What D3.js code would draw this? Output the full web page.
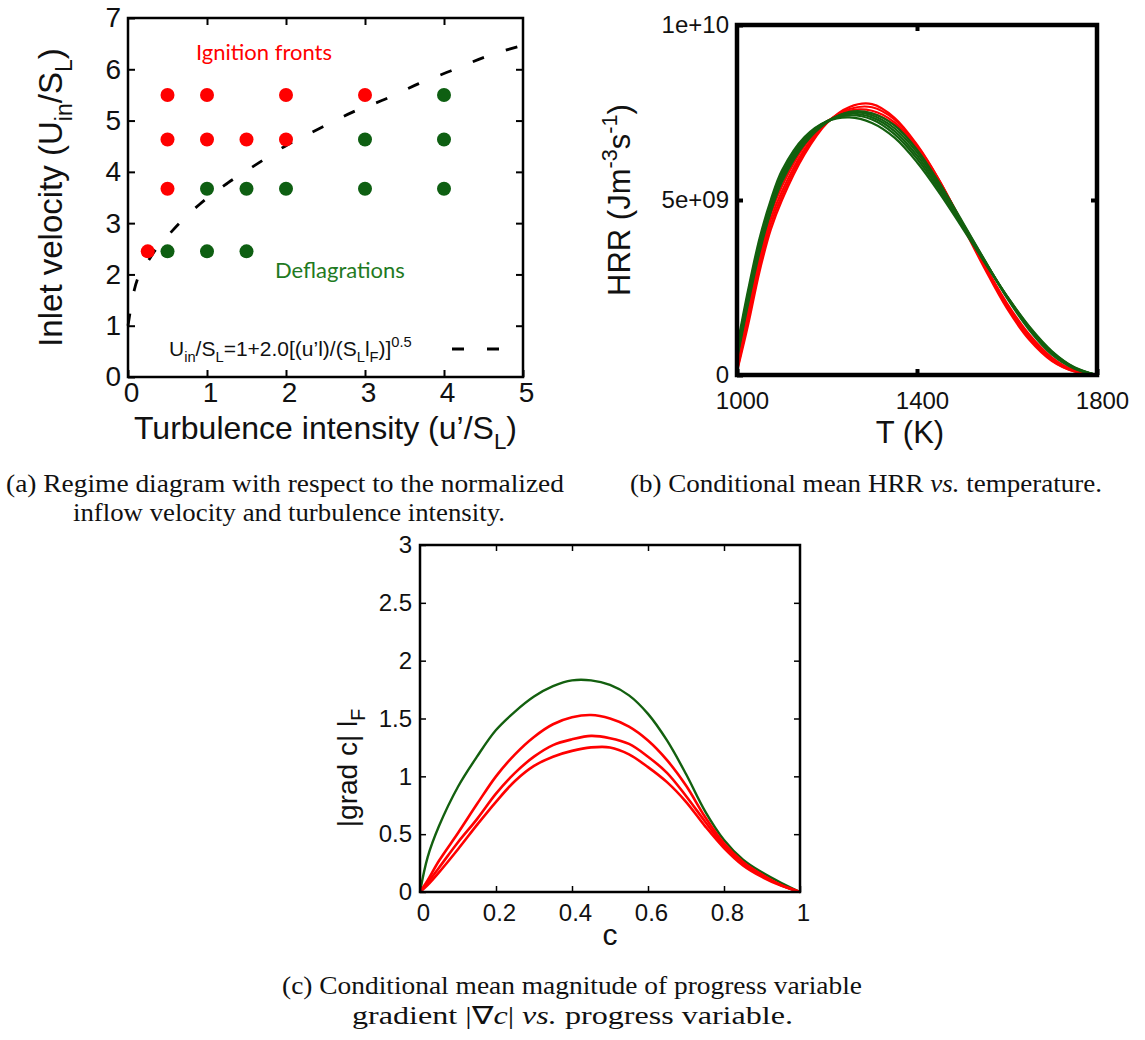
<!DOCTYPE html>
<html>
<head>
<meta charset="utf-8">
<script src="https://cdn.jsdelivr.net/npm/d3@7"></script>
<style>
  html, body { margin: 0; padding: 0; background: #fff; }
  svg { display: block; }
</style>
</head>
<body>
<div id="chart"></div>
<script>
// ---------- data ----------
// (a) regime diagram: turbulence intensity vs inlet velocity
const ignitionX = [0.5, 1, 2, 3, 0.5, 1, 1.5, 2, 0.5, 0.25];
const ignitionY = [5.5, 5.5, 5.5, 5.5, 4.63, 4.63, 4.63, 4.63, 3.67, 2.45];
const deflagX = [4, 3, 4, 1, 1.5, 2, 3, 4, 0.5, 1, 1.5];
const deflagY = [5.5, 4.63, 4.63, 3.67, 3.67, 3.67, 3.67, 3.67, 2.45, 2.45, 2.45];
// dashed boundary
const boundaryX = [0, 0.08, 0.28, 0.56, 0.9, 1.26, 1.62, 2.02, 2.43, 2.85, 3.26, 3.68, 4.09, 4.52, 5];
const boundaryY = [1.0, 1.7, 2.32, 2.85, 3.36, 3.78, 4.14, 4.53, 4.85, 5.17, 5.42, 5.72, 5.97, 6.24, 6.47];
const regimeXTicks = [0, 1, 2, 3, 4, 5];
const regimeYTicks = [0, 1, 2, 3, 4, 5, 6, 7];

// (b) conditional mean HRR (units of 1e9) vs temperature
const hrrT = [1000, 1025, 1050, 1075, 1100, 1150, 1200, 1250, 1300, 1350, 1400, 1450, 1500, 1550, 1600, 1650, 1700, 1750, 1800];
const hrrRed = [
  [0.10, 1.45, 2.95, 4.15, 5.00, 6.30, 7.20, 7.66, 7.74, 7.35, 6.58, 5.55, 4.30, 3.05, 1.90, 1.00, 0.40, 0.10, 0],
  [0.12, 1.60, 3.10, 4.30, 5.12, 6.38, 7.22, 7.60, 7.65, 7.30, 6.55, 5.55, 4.35, 3.10, 1.95, 1.05, 0.42, 0.10, 0],
  [0.15, 1.75, 3.25, 4.45, 5.25, 6.45, 7.22, 7.55, 7.55, 7.22, 6.50, 5.52, 4.35, 3.12, 2.00, 1.10, 0.45, 0.12, 0],
  [0.20, 1.90, 3.40, 4.60, 5.40, 6.55, 7.25, 7.50, 7.47, 7.15, 6.45, 5.50, 4.35, 3.15, 2.05, 1.15, 0.50, 0.13, 0]
];
const hrrGreen = [
  [0.80, 2.45, 3.90, 5.00, 5.85, 6.80, 7.25, 7.36, 7.20, 6.78, 6.08, 5.20, 4.22, 3.22, 2.25, 1.38, 0.68, 0.22, 0],
  [0.70, 2.35, 3.80, 4.90, 5.75, 6.75, 7.25, 7.42, 7.30, 6.88, 6.18, 5.28, 4.28, 3.25, 2.25, 1.36, 0.66, 0.21, 0],
  [0.60, 2.25, 3.70, 4.82, 5.68, 6.70, 7.25, 7.46, 7.36, 6.97, 6.27, 5.35, 4.33, 3.27, 2.24, 1.34, 0.64, 0.20, 0],
  [0.50, 2.15, 3.60, 4.72, 5.60, 6.65, 7.24, 7.50, 7.42, 7.05, 6.36, 5.42, 4.37, 3.28, 2.22, 1.31, 0.61, 0.19, 0],
  [0.45, 2.05, 3.50, 4.65, 5.52, 6.60, 7.22, 7.52, 7.48, 7.13, 6.44, 5.48, 4.40, 3.29, 2.20, 1.28, 0.58, 0.18, 0]
];
const hrrXTicks = [1000, 1400, 1800];
const hrrYTicks = [0, 5e9, 1e10];
const hrrYLabels = ['0', '5e+09', '1e+10'];

// (c) conditional mean |grad c| l_F vs progress variable
const cGrid = [0, 0.02, 0.05, 0.1, 0.15, 0.2, 0.25, 0.3, 0.35, 0.4, 0.45, 0.5, 0.55, 0.6, 0.65, 0.7, 0.75, 0.8, 0.85, 0.9, 0.95, 1.0];
const gradGreen = [0, 0.30, 0.57, 0.91, 1.17, 1.40, 1.56, 1.69, 1.78, 1.83, 1.83, 1.79, 1.70, 1.54, 1.31, 1.02, 0.70, 0.45, 0.28, 0.17, 0.08, 0];
const gradRed = [
  [0, 0.10, 0.27, 0.51, 0.76, 1.00, 1.19, 1.34, 1.45, 1.51, 1.53, 1.50, 1.43, 1.31, 1.14, 0.92, 0.65, 0.42, 0.26, 0.15, 0.06, 0],
  [0, 0.08, 0.21, 0.43, 0.63, 0.85, 1.03, 1.17, 1.27, 1.32, 1.35, 1.33, 1.28, 1.17, 1.03, 0.83, 0.61, 0.40, 0.25, 0.14, 0.06, 0],
  [0, 0.06, 0.17, 0.37, 0.58, 0.78, 0.96, 1.09, 1.17, 1.22, 1.25, 1.25, 1.19, 1.08, 0.95, 0.78, 0.57, 0.38, 0.23, 0.13, 0.055, 0]
];
const cXTicks = [0, 0.2, 0.4, 0.6, 0.8, 1];
const cYTicks = [0, 0.5, 1, 1.5, 2, 2.5, 3];

const RED = '#ff0000';
const GREEN = '#0e5f12';
const LINE_GREEN = '#13600f';
const SANS = '"Liberation Sans", Arial, Helvetica, sans-serif';
const SERIF = '"Liberation Serif", "Times New Roman", serif';

const svg = d3.select('#chart').append('svg')
    .attr('width', 1145)
    .attr('height', 1040);

// text with sub/superscripts, parts = [{t, sub, sup, it}]
function rich(sel, parts, size) {
  let shift = 0;
  parts.forEach(p => {
    const target = p.sub ? size * 0.3 : (p.sup ? -size * 0.42 : 0);
    const ts = sel.append('tspan')
        .attr('dy', target - shift)
        .attr('font-size', (p.sub || p.sup) ? size * 0.7 : size)
        .text(p.t);
    if (p.it) ts.attr('font-style', 'italic');
    shift = target;
  });
  return sel;
}

// frame + inward ticks on all sides
function drawAxes(g, x, y, w, h, o) {
  const styleAxis = a => {
    a.select('.domain').remove();
    a.attr('font-family', SANS).attr('font-size', o.font);
    a.selectAll('.tick line').attr('stroke', '#000').attr('stroke-width', o.tickWidth);
    a.selectAll('.tick text').attr('fill', '#111');
  };

  g.append('g')
      .call(d3.axisLeft(y).tickValues(o.yTicks).tickSize(-o.tickLen).tickPadding(o.padY).tickFormat(o.yFmt))
      .call(styleAxis);

  g.append('g')
      .attr('transform', `translate(0,${h})`)
      .call(d3.axisBottom(x).tickValues(o.xTicks).tickSize(-o.tickLen).tickPadding(o.padX).tickFormat(o.xFmt))
      .call(styleAxis)
      .selectAll('.tick text').attr('dx', o.dx);

  g.append('g')
      .attr('transform', `translate(${w},0)`)
      .call(d3.axisRight(y).tickValues(o.yInner || o.yTicks).tickSize(-o.tickLen).tickFormat(''))
      .call(styleAxis);

  g.append('g')
      .call(d3.axisTop(x).tickValues(o.xInner || o.xTicks).tickSize(-o.tickLen).tickFormat(''))
      .call(styleAxis);

  g.append('rect')
      .attr('width', w)
      .attr('height', h)
      .attr('fill', 'none')
      .attr('stroke', '#000')
      .attr('stroke-width', o.frameWidth);
}

// ---------- (a) regime diagram ----------
{
  const m = {left: 128, top: 18}, w = 395, h = 359;
  const g = svg.append('g').attr('transform', `translate(${m.left},${m.top})`);
  const x = d3.scaleLinear().domain([0, 5]).range([0, w]);
  const y = d3.scaleLinear().domain([0, 7]).range([h, 0]);

  drawAxes(g, x, y, w, h, {
    xTicks: regimeXTicks, yTicks: regimeYTicks,
    xInner: regimeXTicks.slice(1, -1), yInner: regimeYTicks.slice(1, -1),
    xFmt: d3.format('d'), yFmt: d3.format('d'),
    font: 28, tickLen: 7, tickWidth: 2, frameWidth: 2.5, padY: 7, padX: 5, dx: 3
  });

  const boundary = d3.line()
      .x((d, i) => x(boundaryX[i]))
      .y(d => y(d))
      .curve(d3.curveMonotoneX);

  g.append('path')
      .datum(boundaryY)
      .attr('d', boundary)
      .attr('fill', 'none')
      .attr('stroke', '#000')
      .attr('stroke-width', 2.8)
      .attr('stroke-dasharray', '12,23');

  g.selectAll('.ign')
      .data(ignitionX)
      .join('circle')
      .attr('class', 'ign')
      .attr('cx', d => x(d))
      .attr('cy', (d, i) => y(ignitionY[i]))
      .attr('r', 7)
      .attr('fill', RED);

  g.selectAll('.def')
      .data(deflagX)
      .join('circle')
      .attr('class', 'def')
      .attr('cx', d => x(d))
      .attr('cy', (d, i) => y(deflagY[i]))
      .attr('r', 7)
      .attr('fill', GREEN);

  svg.append('text')
      .attr('x', 196).attr('y', 60)
      .attr('font-family', 'Lato, "Open Sans", sans-serif')
      .attr('font-size', 22)
      .attr('fill', RED)
      .text('Ignition fronts');

  svg.append('text')
      .attr('x', 275).attr('y', 278)
      .attr('font-family', 'Lato, "Open Sans", sans-serif')
      .attr('font-size', 22)
      .attr('fill', '#1f7a22')
      .text('Deflagrations');

  // legend of the dashed line
  rich(svg.append('text')
      .attr('x', 169).attr('y', 356)
      .attr('font-family', SANS)
      .attr('fill', '#111'),
    [{t: 'U'}, {t: 'in', sub: true}, {t: '/S'}, {t: 'L', sub: true},
     {t: '=1+2.0[(u’l)/(S'}, {t: 'L', sub: true}, {t: 'l'}, {t: 'F', sub: true},
     {t: ')]'}, {t: '0.5', sup: true}], 21);

  svg.append('line')
      .attr('x1', 452).attr('x2', 500)
      .attr('y1', 349).attr('y2', 349)
      .attr('stroke', '#000')
      .attr('stroke-width', 2.8)
      .attr('stroke-dasharray', '12,23');

  rich(svg.append('text')
      .attr('x', m.left + w / 2).attr('y', 439)
      .attr('text-anchor', 'middle')
      .attr('font-family', SANS)
      .attr('fill', '#111'),
    [{t: 'Turbulence intensity (u’/S'}, {t: 'L', sub: true}, {t: ')'}], 32);

  rich(svg.append('text')
      .attr('transform', `translate(62,${m.top + h / 2}) rotate(-90)`)
      .attr('text-anchor', 'middle')
      .attr('font-family', SANS)
      .attr('fill', '#111'),
    [{t: 'Inlet velocity (U'}, {t: 'in', sub: true}, {t: '/S'}, {t: 'L', sub: true}, {t: ')'}], 33);
}

// ---------- (b) HRR vs T ----------
{
  const m = {left: 737, top: 25}, w = 360, h = 350;
  const g = svg.append('g').attr('transform', `translate(${m.left},${m.top})`);
  const x = d3.scaleLinear().domain([1000, 1800]).range([0, w]);
  const y = d3.scaleLinear().domain([0, 1e10]).range([h, 0]);

  const line = d3.line()
      .x((d, i) => x(hrrT[i]))
      .y(d => y(d * 1e9))
      .curve(d3.curveCatmullRom.alpha(0.5));

  g.selectAll('.red')
      .data(hrrRed)
      .join('path')
      .attr('class', 'red')
      .attr('d', line)
      .attr('fill', 'none')
      .attr('stroke', RED)
      .attr('stroke-width', 2.2);

  g.selectAll('.green')
      .data(hrrGreen)
      .join('path')
      .attr('class', 'green')
      .attr('d', line)
      .attr('fill', 'none')
      .attr('stroke', LINE_GREEN)
      .attr('stroke-width', 2.2);

  drawAxes(g, x, y, w, h, {
    xTicks: hrrXTicks, yTicks: hrrYTicks,
    xInner: [1400], yInner: [5e9],
    xFmt: d3.format('d'), yFmt: (d, i) => hrrYLabels[i],
    font: 24, tickLen: 6, tickWidth: 4, frameWidth: 4.5, padY: 8, padX: 17, dx: 5
  });

  rich(svg.append('text')
      .attr('x', 910).attr('y', 443)
      .attr('text-anchor', 'middle')
      .attr('font-family', SANS)
      .attr('fill', '#111'),
    [{t: 'T (K)'}], 31);

  rich(svg.append('text')
      .attr('transform', `translate(630,${m.top + h / 2}) rotate(-90)`)
      .attr('text-anchor', 'middle')
      .attr('font-family', SANS)
      .attr('fill', '#111'),
    [{t: 'HRR (Jm'}, {t: '-3', sup: true}, {t: 's'}, {t: '-1', sup: true}, {t: ')'}], 31);
}

// ---------- (c) |grad c| vs c ----------
{
  const m = {left: 420, top: 545}, w = 380, h = 347;
  const g = svg.append('g').attr('transform', `translate(${m.left},${m.top})`);
  const x = d3.scaleLinear().domain([0, 1]).range([0, w]);
  const y = d3.scaleLinear().domain([0, 3]).range([h, 0]);

  const line = d3.line()
      .x((d, i) => x(cGrid[i]))
      .y(d => y(d))
      .curve(d3.curveCatmullRom.alpha(0.5));

  g.append('path')
      .datum(gradGreen)
      .attr('d', line)
      .attr('fill', 'none')
      .attr('stroke', LINE_GREEN)
      .attr('stroke-width', 2.4);

  g.selectAll('.red')
      .data(gradRed)
      .join('path')
      .attr('class', 'red')
      .attr('d', line)
      .attr('fill', 'none')
      .attr('stroke', RED)
      .attr('stroke-width', 2.6);

  drawAxes(g, x, y, w, h, {
    xTicks: cXTicks, yTicks: cYTicks,
    xInner: cXTicks.slice(1, -1), yInner: cYTicks.slice(1, -1),
    xFmt: d => d3.format('~g')(d), yFmt: d => d3.format('~g')(d),
    font: 24, tickLen: 6, tickWidth: 1.5, frameWidth: 2.5, padY: 8, padX: 12, dx: 3
  });

  rich(svg.append('text')
      .attr('x', m.left + w / 2).attr('y', 945)
      .attr('text-anchor', 'middle')
      .attr('font-family', SANS)
      .attr('fill', '#111'),
    [{t: 'c'}], 30);

  rich(svg.append('text')
      .attr('transform', `translate(357,768) rotate(-90)`)
      .attr('text-anchor', 'middle')
      .attr('font-family', SANS)
      .attr('fill', '#111'),
    [{t: '|grad c| l'}, {t: 'F', sub: true}], 28);
}

// ---------- captions ----------
const captions = [
  {x: 6, y: 492, len: 558, parts: [{t: '(a) Regime diagram with respect to the normalized'}]},
  {x: 73, y: 521, len: 432, parts: [{t: 'inflow velocity and turbulence intensity.'}]},
  {x: 630, y: 492, len: 472, parts: [{t: '(b) Conditional mean HRR '}, {t: 'vs.', it: true}, {t: ' temperature.'}]},
  {x: 282, y: 994, len: 580, parts: [{t: '(c) Conditional mean magnitude of progress variable'}]},
  {x: 352, y: 1024, len: 441, parts: [{t: 'gradient |∇'}, {t: 'c', it: true}, {t: '| '}, {t: 'vs.', it: true}, {t: ' progress variable.'}]}
];

captions.forEach(c => {
  const t = svg.append('text')
      .attr('x', c.x).attr('y', c.y)
      .attr('font-family', SERIF)
      .attr('fill', '#111')
      .attr('textLength', c.len)
      .attr('lengthAdjust', 'spacingAndGlyphs');
  rich(t, c.parts, 25);
});
</script>
</body>
</html>
